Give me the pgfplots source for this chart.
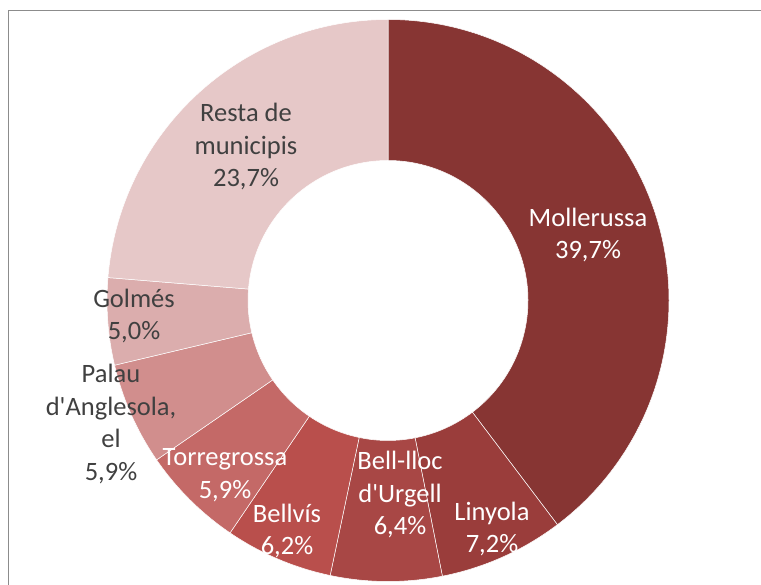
\documentclass[border=0pt]{standalone}
\usepackage{fontspec}
\setmainfont{Carlito}
\usepackage{pgfplots}
\usepackage{pgfplotstable}
\pgfplotsset{compat=1.18}
\definecolor{c0}{HTML}{873533}
\definecolor{c1}{HTML}{9A3D3B}
\definecolor{c2}{HTML}{A84745}
\definecolor{c3}{HTML}{B94F4C}
\definecolor{c4}{HTML}{C46967}
\definecolor{c5}{HTML}{D18E8D}
\definecolor{c6}{HTML}{DBADAD}
\definecolor{c7}{HTML}{E6C8C8}
\definecolor{labdark}{HTML}{404040}
\definecolor{framegray}{HTML}{8C8C8C}
\pgfplotstableread[col sep=comma]{
share,color
39.7,c0
7.2,c1
6.4,c2
6.2,c3
5.9,c4
5.9,c5
5.0,c6
23.7,c7
}\shares
\newcommand\labfont{\fontsize{26.5}{32.5}\selectfont}
\begin{document}
\begin{tikzpicture}
\begin{axis}[
  width=761pt, height=585pt, scale only axis,
  xmin=0, xmax=761, ymin=0, ymax=585,
  hide axis, clip=false, anchor=south west, at={(0,0)}]
\addplot[framegray, line width=1.2pt] coordinates {(8.3,0) (8.3,574.3) (761,574.3)};
\def\cum{0}
\pgfplotsforeachungrouped \i in {0,...,7}{%
  \pgfplotstablegetelem{\i}{share}\of\shares \let\v\pgfplotsretval
  \pgfplotstablegetelem{\i}{color}\of\shares \let\col\pgfplotsretval
  \pgfmathsetmacro\a{90-3.6*\cum}%
  \pgfmathsetmacro\b{90-3.6*(\cum+\v)}%
  \pgfmathsetmacro\cum{\cum+\v}%
  \edef\tmp{\noexpand\fill[fill=\col, draw=white, line width=0.5pt]
    (axis cs:388,284.5) ++(\a:281pt) arc[start angle=\a, end angle=\b, radius=281pt]
    -- ++(\b+180:141pt) arc[start angle=\b, end angle=\a, radius=140pt] -- cycle;}%
  \tmp
}
\node[align=center, text=white, font=\labfont] at (axis cs:588,350) {Mollerussa\\39,7\%};
\node[align=center, text=labdark, font=\labfont] at (axis cs:246,438) {Resta de\\municipis\\23,7\%};
\node[align=center, text=labdark, font=\labfont] at (axis cs:134,269) {Golmés\\5,0\%};
\node[align=center, text=labdark, font=\labfont] at (axis cs:111,161) {Palau\\d\textquotesingle Anglesola,\\el\\5,9\%};
\node[align=center, text=white, font=\labfont] at (axis cs:225,110) {Torregrossa\\5,9\%};
\node[align=center, text=white, font=\labfont] at (axis cs:287,54) {Bellvís\\6,2\%};
\node[align=center, text=white, font=\labfont] at (axis cs:400,90) {Bell-lloc\\d\textquotesingle Urgell\\6,4\%};
\node[align=center, text=white, font=\labfont] at (axis cs:492,56) {Linyola\\7,2\%};
\end{axis}
\pgfresetboundingbox
\path[use as bounding box] (0,0) rectangle (761pt,585pt);
\end{tikzpicture}
\end{document}
